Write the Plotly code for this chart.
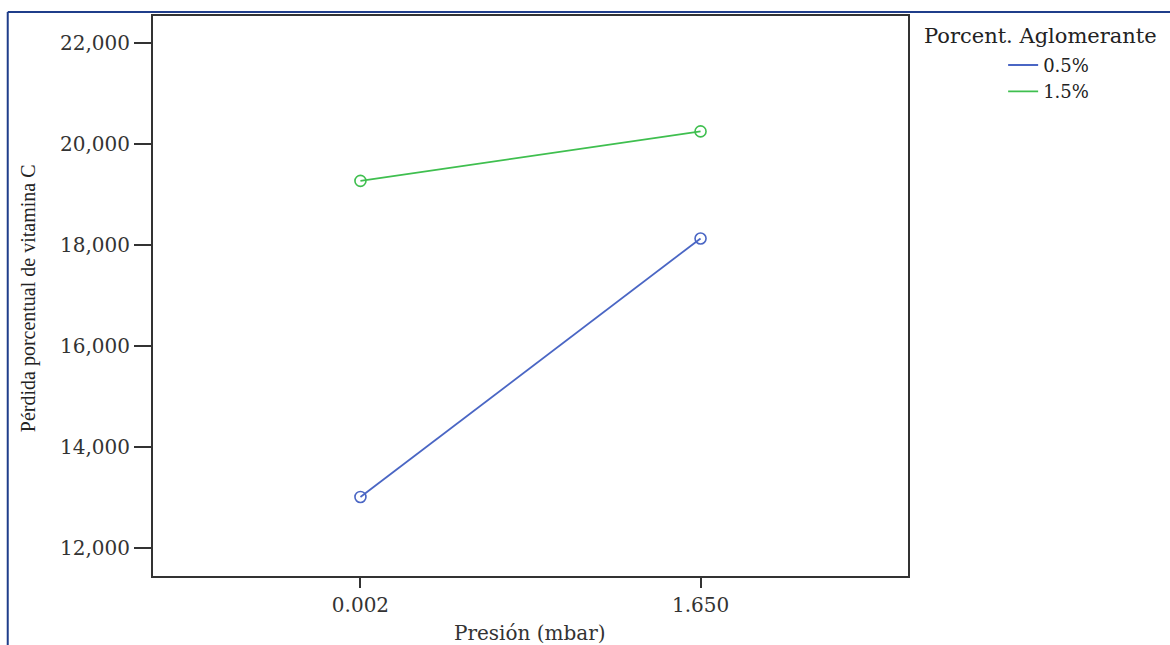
import plotly.graph_objects as go

presion = ["0.002", "1.650"]
serie_05 = [13010, 18130]
serie_15 = [19270, 20250]
series_names = ["0.5%", "1.5%"]
y_ticks = [12000, 14000, 16000, 18000, 20000, 22000]
y_tick_labels = ["12,000", "14,000", "16,000", "18,000", "20,000", "22,000"]

blue = "#4a66c4"
green = "#3fbf4f"
tick_font = dict(family="DejaVu Serif", size=20, color="#333333")

fig = go.Figure()
for name, vals, col in [(series_names[0], serie_05, blue), (series_names[1], serie_15, green)]:
    fig.add_trace(go.Scatter(
        x=[0, 1], y=vals, name=name, mode="lines+markers", showlegend=False,
        line=dict(color=col, width=1.8),
        marker=dict(symbol="circle-open", size=11, color=col, line=dict(width=1.6, color=col)),
    ))
    # legend entry (line only, as in the reference)
    fig.add_trace(go.Scatter(
        x=[None], y=[None], name=name, mode="lines", showlegend=True,
        line=dict(color=col, width=1.8),
    ))

fig.update_layout(
    width=1170, height=645,
    margin=dict(l=153, r=262, t=16, b=69),
    plot_bgcolor="white", paper_bgcolor="white",
    showlegend=True,
    legend=dict(x=1.126, y=0.945, xanchor="left", yanchor="top",
                font=dict(family="DejaVu Serif", size=18, color="#222222"),
                tracegroupgap=0, bgcolor="rgba(0,0,0,0)"),
    xaxis=dict(range=[-0.61, 1.61], tickvals=[0, 1], ticktext=presion,
               showgrid=False, zeroline=False, showline=True, mirror=True,
               linecolor="#333333", linewidth=2, ticks="outside", ticklen=10,
               tickwidth=2, tickcolor="#333333", tickfont=tick_font),
    yaxis=dict(range=[11444, 22536], tickvals=y_ticks, ticktext=y_tick_labels,
               showgrid=False, zeroline=False, showline=True, mirror=True,
               linecolor="#333333", linewidth=2, ticks="outside", ticklen=17,
               tickwidth=2, tickcolor="#333333", tickfont=tick_font),
    annotations=[
        dict(text="Porcent. Aglomerante", xref="paper", yref="paper",
             x=1.018, y=0.99, xanchor="left", yanchor="top", showarrow=False,
             font=dict(family="DejaVu Serif", size=21, color="#222222")),
        dict(text="Pérdida porcentual de vitamina C", xref="paper", yref="paper",
             x=-0.1656, y=0.496, xanchor="center", yanchor="middle", textangle=-90,
             showarrow=False, font=dict(family="Liberation Serif", size=20, color="#222222")),
        dict(text="Presión (mbar)", xref="paper", yref="paper",
             x=0.4993, y=-0.1018, xanchor="center", yanchor="middle",
             showarrow=False, font=dict(family="DejaVu Serif", size=20, color="#333333")),
    ],
    shapes=[
        dict(type="line", xref="paper", yref="paper", x0=-0.1924, x1=1.35, y0=1.0071, y1=1.0071,
             line=dict(color="#1f3d8a", width=2)),
        dict(type="line", xref="paper", yref="paper", x0=-0.1924, x1=-0.1924, y0=1.0071, y1=-0.125,
             line=dict(color="#1f3d8a", width=2)),
    ],
)

fig.write_html("out.html")
